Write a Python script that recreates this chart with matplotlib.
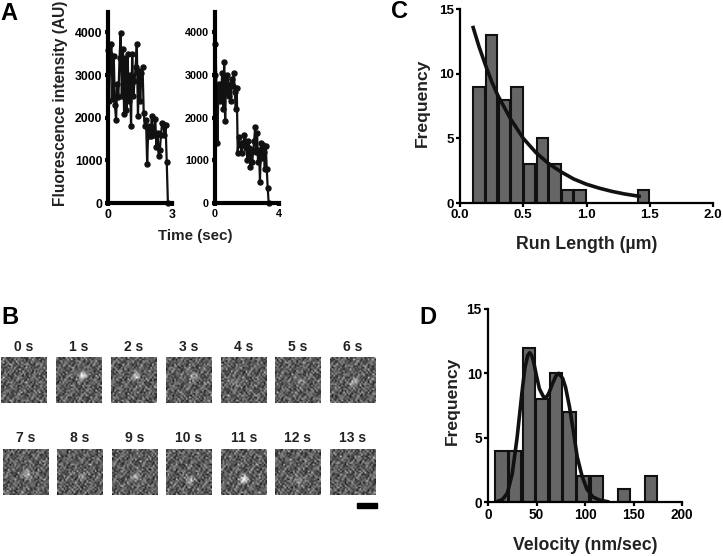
import matplotlib
matplotlib.use("Agg")
import matplotlib.pyplot as plt
import numpy as np

plt.rcParams['font.family'] = ['Liberation Sans', 'DejaVu Sans']
plt.rcParams['font.weight'] = 'bold'
plt.rcParams['axes.labelweight'] = 'bold'

W, H = 723, 556

# --- Panel A: traces ---
trace1 = [3600, 2400, 3500, 3720, 2430, 3450, 2300, 1950, 2800, 2480, 3400, 3980, 2500,
          3620, 2080, 3400, 2180, 3500, 2400, 3000, 1800, 3500, 2500, 2850, 3200, 3720,
          2030, 3100, 2400, 3050, 3200, 2120, 1800, 1950, 920, 1800, 1570, 1580, 2050,
          1700, 1600, 1980, 1320, 1650, 1100, 1250, 1600, 1880, 1850, 1600, 1820, 950, 0]
trace2 = [3000, 3720, 2750, 1400, 2700, 2800, 2400, 2650, 3050, 2200, 3300, 1920, 2900,
          3000, 2600, 2500, 2800, 2400, 2900, 2750, 3050, 2600, 2200, 2700, 1180, 1550,
          1350, 1400, 1180, 1400, 1350, 1600, 1450, 1300, 1000, 1450, 1300, 850, 1200,
          950, 1250, 1450, 1780, 1200, 1650, 950, 1250, 500, 1400, 1050, 1350, 1200,
          800, 1340, 800, 350, 0]
dt1 = 0.054
dt2 = 0.06
yticks_a = [0, 1000, 2000, 3000, 4000]

# --- Panel C: run length ---
run_centers = [0.15, 0.25, 0.35, 0.45, 0.55, 0.65, 0.75, 0.85, 0.95, 1.45]
run_counts = [9, 13, 8, 9, 3, 5, 3, 1, 1, 1]
run_fit_x = [0.10, 0.15, 0.20, 0.25, 0.30, 0.35, 0.40, 0.50, 0.60, 0.70, 0.80, 0.90, 1.00, 1.10, 1.20, 1.30, 1.43]
run_fit_y = [13.7, 12.1, 10.7, 9.4, 8.3, 7.4, 6.5, 5.0, 3.9, 3.05, 2.4, 1.85, 1.45, 1.15, 0.9, 0.7, 0.5]

# --- Panel D: velocity ---
vel_centers = [14, 28, 42, 56, 70, 84, 98, 112, 140, 168]
vel_counts = [4, 4, 12, 8, 10, 7, 2, 2, 1, 2]
vel_fit_x = [8, 15, 20, 25, 30, 35, 38, 41, 43, 45, 47, 50, 53, 57, 60, 63, 66, 70, 73, 77, 80, 84, 88, 92, 97, 102, 108, 115, 125]
vel_fit_y = [0, 0.2, 0.7, 2.2, 5, 8.5, 10.4, 11.4, 11.6, 11.4, 10.9, 9.8, 8.8, 8.2, 8.1, 8.5, 9.1, 9.8, 10, 9.6, 8.9, 7.4, 5.5, 3.5, 2, 1, 0.4, 0.15, 0]

# --- Panel B: frames ---
row1_labels = ['0 s', '1 s', '2 s', '3 s', '4 s', '5 s', '6 s']
row2_labels = ['7 s', '8 s', '9 s', '10 s', '11 s', '12 s', '13 s']
row1_x = [1, 56, 111, 166, 221, 275, 330]
row2_x = [3, 57, 112, 166, 221, 275, 330]
# brillo y posicion del punto en cada cuadro
row1_spot = [0, 150, 110, 80, 50, 50, 90]
row2_spot = [110, 50, 90, 90, 160, 70, 0]
row1_spot_col = [14, 15.6, 15, 15.8, 7.7, 14.6, 14.2]
row1_spot_fila = [14, 10.7, 11.4, 11.4, 14.8, 14.5, 14.8]
row2_spot_col = [14.6, 14.6, 14.2, 14, 13.6, 13.8, 14]
row2_spot_fila = [14.8, 15.6, 16.8, 18, 18, 18.8, 14]
# textura de fondo escrita a mano
tile = np.array([
    [ 95, 60, 140, 70, 110, 45, 160, 85, 55, 125, 75],
    [ 50, 150, 80, 115, 40, 130, 70, 100, 170, 60, 105],
    [120, 75, 45, 165, 90, 60, 115, 50, 85, 140, 55],
    [ 65, 175, 100, 55, 135, 80, 40, 150, 70, 95, 120],
    [145, 50, 85, 125, 60, 175, 95, 65, 110, 45, 160],
    [ 80, 110, 155, 40, 100, 55, 130, 90, 50, 135, 70],
    [ 55, 130, 65, 90, 150, 75, 105, 45, 165, 80, 100],
    [170, 85, 45, 120, 70, 110, 60, 140, 95, 55, 125],
    [ 60, 100, 135, 75, 50, 160, 85, 115, 40, 150, 65],
])


def px_axes(x0, x1, ytop, ybottom):
    return fig.add_axes([x0 / W, 1 - ybottom / H, (x1 - x0) / W, (ybottom - ytop) / H])


def style(ax, lw, ticklen, size):
    for s in ['top', 'right']:
        ax.spines[s].set_visible(False)
    for s in ['left', 'bottom']:
        ax.spines[s].set_linewidth(lw)
    ax.tick_params(width=lw, length=ticklen, labelsize=size, pad=1.5)
    ax.patch.set_alpha(0)


fig = plt.figure(figsize=(W / 100, H / 100), dpi=100)

# Panel A
ax1 = px_axes(108, 172, 12, 203)
ax1.plot(np.arange(len(trace1)) * dt1, trace1, '-o', color='#111111', lw=1.6, ms=3.6, clip_on=False)
ax1.set_xlim(0, 3)
ax1.set_ylim(0, 4480)
ax1.set_xticks([0, 3])
ax1.set_yticks(yticks_a)
style(ax1, 3, 2.5, 8.8)
fig.text(60 / W, 1 - 103 / H, 'Fluorescence intensity (AU)', fontsize=11.2, rotation=90,
         ha='center', va='center', color='#222222')

ax2 = px_axes(214.5, 279, 12, 203)
ax2.plot(np.arange(len(trace2)) * dt2, trace2, '-o', color='#111111', lw=1.6, ms=3.6, clip_on=False)
ax2.set_xlim(0, 4)
ax2.set_ylim(0, 4480)
ax2.set_xticks([0, 4])
ax2.set_yticks(yticks_a)
style(ax2, 3, 2.5, 7.8)
fig.text(195.5 / W, 1 - 236 / H, 'Time (sec)', fontsize=10.9, ha='center', va='center', color='#222222')

# Panel C
ax3 = px_axes(460, 713, 9, 203)
ax3.bar(run_centers, run_counts, width=0.09, color='#666666', edgecolor='#111111', linewidth=1.5)
ax3.plot(run_fit_x, run_fit_y, color='#111111', lw=2.6, solid_capstyle='butt')
ax3.set_xlim(0, 2)
ax3.set_ylim(0, 15)
ax3.set_xticks([0, 0.5, 1.0, 1.5, 2.0])
ax3.set_xticklabels(['0.0', '0.5', '1.0', '1.5', '2.0'])
ax3.set_yticks([0, 5, 10, 15])
style(ax3, 1.6, 3, 9.6)
fig.text(586.5 / W, 1 - 245 / H, 'Run Length (µm)', fontsize=12.8, ha='center', va='center', color='#222222')
fig.text(422 / W, 1 - 102.5 / H, 'Frequency', fontsize=12.6, rotation=90, ha='center', va='center', color='#222222')

# Panel D
ax4 = px_axes(488, 682, 309, 502)
ax4.bar(vel_centers, vel_counts, width=12.6, color='#666666', edgecolor='#111111', linewidth=1.5)
ax4.plot(vel_fit_x, vel_fit_y, color='#111111', lw=2.6, solid_capstyle='butt')
ax4.set_xlim(0, 200)
ax4.set_ylim(0, 15)
ax4.set_xticks([0, 50, 100, 150, 200])
ax4.set_yticks([0, 5, 10, 15])
style(ax4, 1.6, 3, 9.8)
fig.text(585.5 / W, 1 - 545 / H, 'Velocity (nm/sec)', fontsize=12.7, ha='center', va='center', color='#222222')
fig.text(452 / W, 1 - 401 / H, 'Frequency', fontsize=12.6, rotation=90, ha='center', va='center', color='#222222')

# Panel B
n = 28
yy, xx = np.mgrid[0:n, 0:n]
rows, cols = tile.shape


def frame(x0, ytop, label, spot, col, fila, idx):
    ax = px_axes(x0, x0 + 46, ytop, ytop + 46)
    # dos copias de la textura con distinto periodo para que no se vean rayas
    a = tile[(yy + idx * 2) % rows, (xx + idx * 3) % cols].astype(float)
    b = tile[(xx * 2 + idx) % rows, (yy * 3 + idx * 5) % cols].astype(float)
    img = 100 + 1.5 * ((a + b) / 2 - 100)
    if spot:
        img = img + spot * np.exp(-((xx - col) ** 2 + (yy - fila) ** 2) / 5.0)
    ax.imshow(img, cmap='gray', vmin=0, vmax=255, interpolation='bilinear', aspect='auto')
    ax.axis('off')
    fig.text((x0 + 23) / W, 1 - (ytop - 10) / H, label, fontsize=10, ha='center', va='center', color='#222222')


for i in range(7):
    frame(row1_x[i], 357, row1_labels[i], row1_spot[i], row1_spot_col[i], row1_spot_fila[i], i)
    frame(row2_x[i], 448.5, row2_labels[i], row2_spot[i], row2_spot_col[i], row2_spot_fila[i], i + 7)

# barra de escala
fig.add_artist(plt.Rectangle((357 / W, 1 - 507.5 / H), 20 / W, 5 / H, color='black', transform=fig.transFigure))

# letras de los paneles
for letra, x, y in [('A', 9, 13), ('B', 10, 317), ('C', 399, 12), ('D', 428, 318)]:
    fig.text(x / W, 1 - y / H, letra, fontsize=17, ha='center', va='center', color='black')

fig.savefig('out.png', dpi=100)
